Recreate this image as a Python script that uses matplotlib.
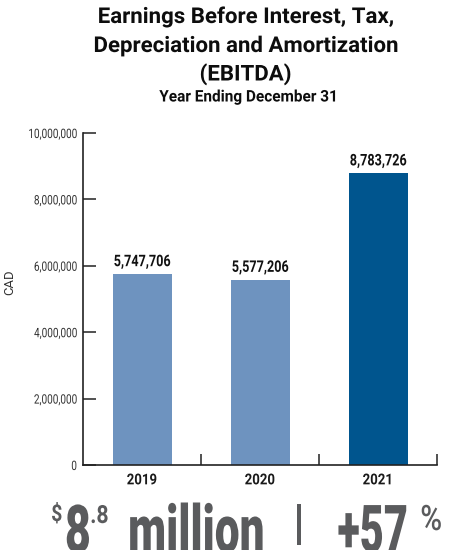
import matplotlib
matplotlib.use("Agg")
import matplotlib.pyplot as plt
from matplotlib import patheffects
from matplotlib.transforms import Affine2D
from matplotlib.ticker import FixedLocator, FuncFormatter

# ---- data -------------------------------------------------------------
years = ["2019", "2020", "2021"]
ebitda = [5747706, 5577206, 8783726]
bar_colors = ["#6E93BF", "#6E93BF", "#00558E"]
y_ticks = [0, 2_000_000, 4_000_000, 6_000_000, 8_000_000, 10_000_000]
title_lines = [
    "Earnings Before Interest, Tax,",
    "Depreciation and Amortization",
    "(EBITDA)",
]
subtitle = "Year Ending December 31"
y_label = "CAD"

# headline figures derived from the latest year
latest_millions = f"{ebitda[-1] / 1e6:.1f}"          # "8.8"
whole, frac = latest_millions.split(".")
growth_pct = round((ebitda[-1] / ebitda[-2] - 1) * 100)  # 57

# ---- figure setup -----------------------------------------------------
plt.rcParams["font.family"] = ["Roboto", "DejaVu Sans"]
W, H = 457, 550
fig = plt.figure(figsize=(W / 100, H / 100), dpi=100)
PT = 72 / 100  # pixels -> points


class Squeeze(patheffects.AbstractPathEffect):
    """Horizontally condense rendered glyphs around an anchor edge."""

    def __init__(self, sx, anchor="center"):
        super().__init__()
        self.sx = sx
        self.anchor = anchor

    def draw_path(self, renderer, gc, tpath, affine, rgbFace=None):
        ext = tpath.get_extents(affine)
        x0 = {"left": ext.x0, "center": 0.5 * (ext.x0 + ext.x1),
              "right": ext.x1}[self.anchor]
        squeeze = Affine2D().translate(-x0, 0).scale(self.sx, 1).translate(x0, 0)
        renderer.draw_path(gc, tpath, affine + squeeze, rgbFace)


def px(x, y):
    return x / W, 1 - y / H


def fig_label(x, y, s, size_px, sx=1.0, ha="center", va="baseline", **kw):
    t = fig.text(*px(x, y), s, fontsize=size_px * PT, ha=ha, va=va, **kw)
    t.set_path_effects([Squeeze(sx, ha)])
    return t


# ---- titles -----------------------------------------------------------
title_color = "#0D0D0D"
for line, base in zip(title_lines, [23, 52, 80.5]):
    fig_label(245.5, base, line, 21.8, sx=1.02, fontweight="bold", color=title_color)
fig_label(248.5, 101.5, subtitle, 16, sx=0.96, fontweight="bold", color=title_color)

# ---- bar chart --------------------------------------------------------
ax = fig.add_axes([83 / W, (H - 465) / H, 354 / W, 332 / H])
x = list(range(len(years)))
ax.bar(x, ebitda, width=0.5, color=bar_colors, zorder=2)
ax.set_xlim(-0.5, len(years) - 0.5)
ax.set_ylim(y_ticks[0], y_ticks[-1])

for side in ("top", "right"):
    ax.spines[side].set_visible(False)
for side in ("left", "bottom"):
    ax.spines[side].set_linewidth(1.2)
    ax.spines[side].set_color("#222222")

ax.yaxis.set_major_locator(FixedLocator(y_ticks))
ax.yaxis.set_major_formatter(FuncFormatter(lambda v, _: f"{v:,.0f}"))
ax.tick_params(axis="y", direction="in", length=9, width=1.1, color="#222222",
               pad=4.3, labelsize=13 * PT, labelcolor="#333333")
plt.setp(ax.get_yticklabels(), path_effects=[Squeeze(0.77, "right")])

ax.set_xticks(x)
ax.set_xticklabels(years, fontweight="bold")
ax.set_xticks([i + 0.5 for i in x], minor=True)
ax.tick_params(axis="x", which="major", length=0, pad=6, labelsize=15 * PT,
               labelcolor="#1A1A1A")
ax.tick_params(axis="x", which="minor", direction="in", length=8, width=1.1,
               color="#222222")
plt.setp(ax.get_xticklabels(), path_effects=[Squeeze(0.88, "center")])

for xi, v in zip(x, ebitda):
    ax.annotate(f"{v:,}", (xi, v), xytext=(0, 8 * PT), textcoords="offset points",
                ha="center", va="baseline", fontsize=16 * PT, fontweight="bold",
                color="#111111", path_effects=[Squeeze(0.79, "center")])

fig.text(*px(10, 282), y_label, rotation=90, ha="center", va="center",
         fontsize=13 * PT, color="#333333")

# ---- headline ---------------------------------------------------------
gray = "#5A5B5D"
fig_label(51, 521, "$", 23, sx=0.85, ha="left", fontweight="bold", color=gray)
fig_label(64, 552, whole, 66, sx=0.68, ha="left", fontweight="black", color=gray)
fig_label(90, 523, "." + frac, 25, sx=0.85, ha="left", fontweight="bold", color=gray)
fig_label(127, 552, "million", 66, sx=0.67, ha="left", fontweight="black", color=gray)
fig_label(299, 526, "|", 49, sx=1.0, ha="center", va="center", fontweight="bold", color=gray)
fig_label(337, 552, f"+{growth_pct}", 66, sx=0.63, ha="left", fontweight="black", color=gray)
fig_label(420, 530, "%", 35, sx=0.85, ha="left", fontweight="medium", color=gray)

fig.savefig("out.png", dpi=100)
